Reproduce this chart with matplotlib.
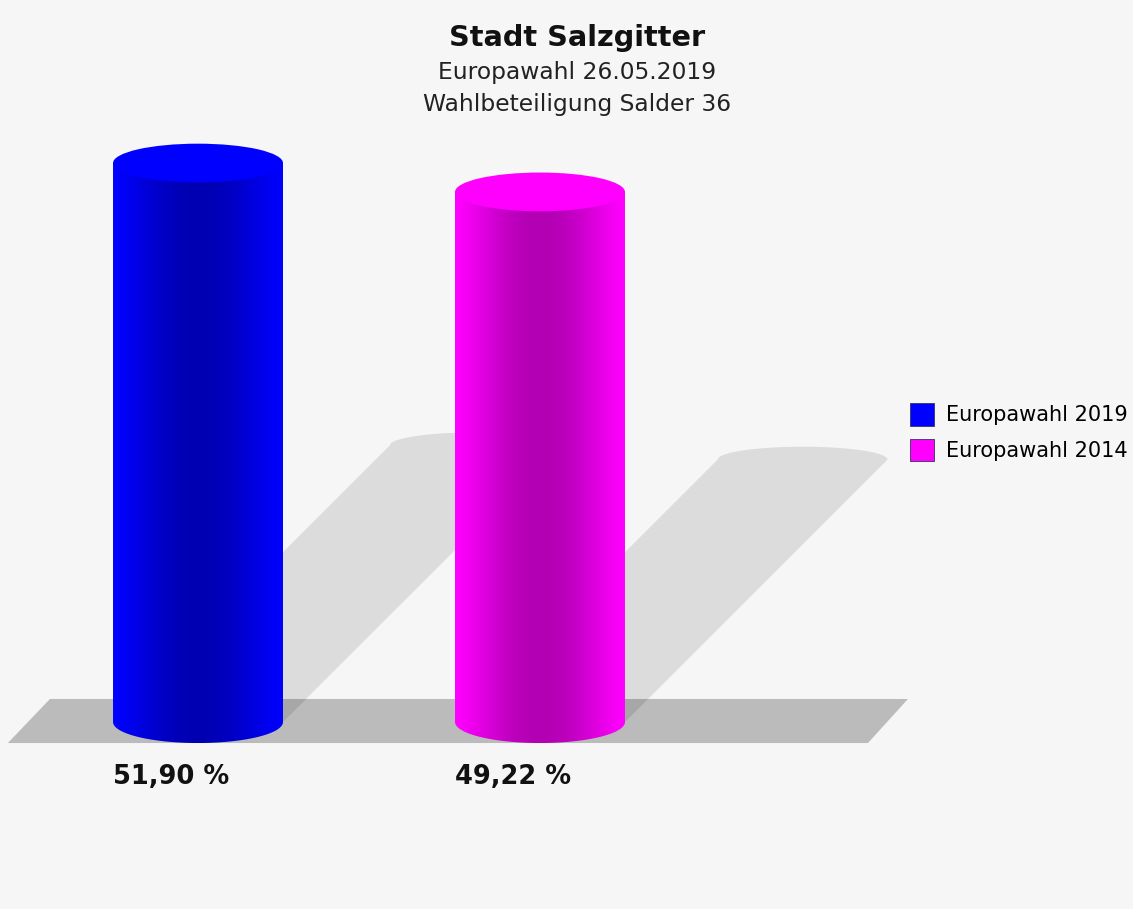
import numpy as np
import matplotlib.pyplot as plt
from matplotlib.patches import Ellipse, Polygon, PathPatch, Patch
from matplotlib.path import Path
from matplotlib.colors import to_rgb

# data
series = ['Europawahl 2019', 'Europawahl 2014']
turnout = [51.90, 49.22]
colors = ['#0000ff', '#ff00ff']

title = 'Stadt Salzgitter'
subtitle = ['Europawahl 26.05.2019', 'Wahlbeteiligung Salder 36']

# style
bg = '#f6f6f6'
bar_w = 0.497        # cylinder width in category units
top_eh = 3.6         # height of top ellipse (percent units)
bot_eh = 3.9         # height of bottom ellipse
sh_eh = 2.4          # height of shadow top ellipse
lean_x = 0.0156      # shadow shift per percent
lean_y = 0.495       # shadow height factor

fig = plt.figure(figsize=(11.33, 9.09), dpi=100, facecolor=bg)
ax = fig.add_axes([0, 0, 1, 1])
ax.set_facecolor(bg)
ax.axis('off')

# floor plane
floor = Polygon([(-0.556, -1.95), (1.959, -1.95), (2.076, 2.14), (-0.433, 2.14)],
                closed=True, facecolor='#bbbbbb', edgecolor='none', zorder=1)
ax.add_patch(floor)

xs = np.arange(len(turnout))

# shadows
for xc, h in zip(xs, turnout):
    hs = h * lean_y
    dx = h * lean_x
    xl, xr = xc - bar_w / 2, xc + bar_w / 2
    t = np.linspace(0, np.pi, 80)
    arc = list(zip(xc + dx + bar_w / 2 * np.cos(t), hs + sh_eh / 2 * np.sin(t)))
    verts = [(xl, 0), (xr, 0)] + arc
    ax.add_patch(Polygon(verts, closed=True, facecolor='black', alpha=0.1,
                         edgecolor='none', zorder=2))

# cylinders
n = 200
tt = np.linspace(0, 1, n)
shade = 1 - 0.3 * np.sin(np.pi * tt) ** 1.3
for xc, h, c in zip(xs, turnout, colors):
    xl, xr = xc - bar_w / 2, xc + bar_w / 2
    rgb = np.array(to_rgb(c))
    img = (shade[:, None] * rgb[None, :])[None, :, :]
    t = np.linspace(np.pi, 2 * np.pi, 80)
    body = [(xl, h), (xl, 0)] + list(zip(xc + bar_w / 2 * np.cos(t), bot_eh / 2 * np.sin(t))) + [(xr, h), (xl, h)]
    clip = PathPatch(Path(body), facecolor='none', edgecolor='none', transform=ax.transData)
    ax.add_patch(clip)
    im = ax.imshow(img, extent=(xl, xr, -bot_eh / 2, h), aspect='auto',
                   interpolation='bilinear', zorder=3)
    im.set_clip_path(clip)
    ax.add_patch(Ellipse((xc, h), bar_w, top_eh, facecolor=c, edgecolor='none', zorder=4))

# value labels
for xc, v in zip(xs, turnout):
    ax.text(xc - bar_w / 2, -5.1, f'{v:.2f} %'.replace('.', ','), fontsize=18.5,
            fontweight='bold', ha='left', va='center', color='#111111')

ax.set_xlim(-0.579, 2.734)
ax.set_ylim(-17.36, 67.04)

# titles
fig.text(0.509, 1 - 38 / 909, title, fontsize=20.7, fontweight='bold', ha='center', va='center', color='#111111')
fig.text(0.509, 1 - 73 / 909, subtitle[0], fontsize=16.8, ha='center', va='center', color='#222222')
fig.text(0.509, 1 - 104 / 909, subtitle[1], fontsize=16.8, ha='center', va='center', color='#222222')

# legend
handles = [Patch(facecolor=c, edgecolor='#333366', linewidth=0.6) for c in colors]
fig.legend(handles, series, loc='upper left', bbox_to_anchor=(910 / 1133, 1 - 403 / 909),
           frameon=False, fontsize=15, handlelength=1.15, handleheight=1.3,
           handletextpad=0.6, labelspacing=0.62, borderpad=0, borderaxespad=0)

fig.savefig('out.png', dpi=100, facecolor=bg)
